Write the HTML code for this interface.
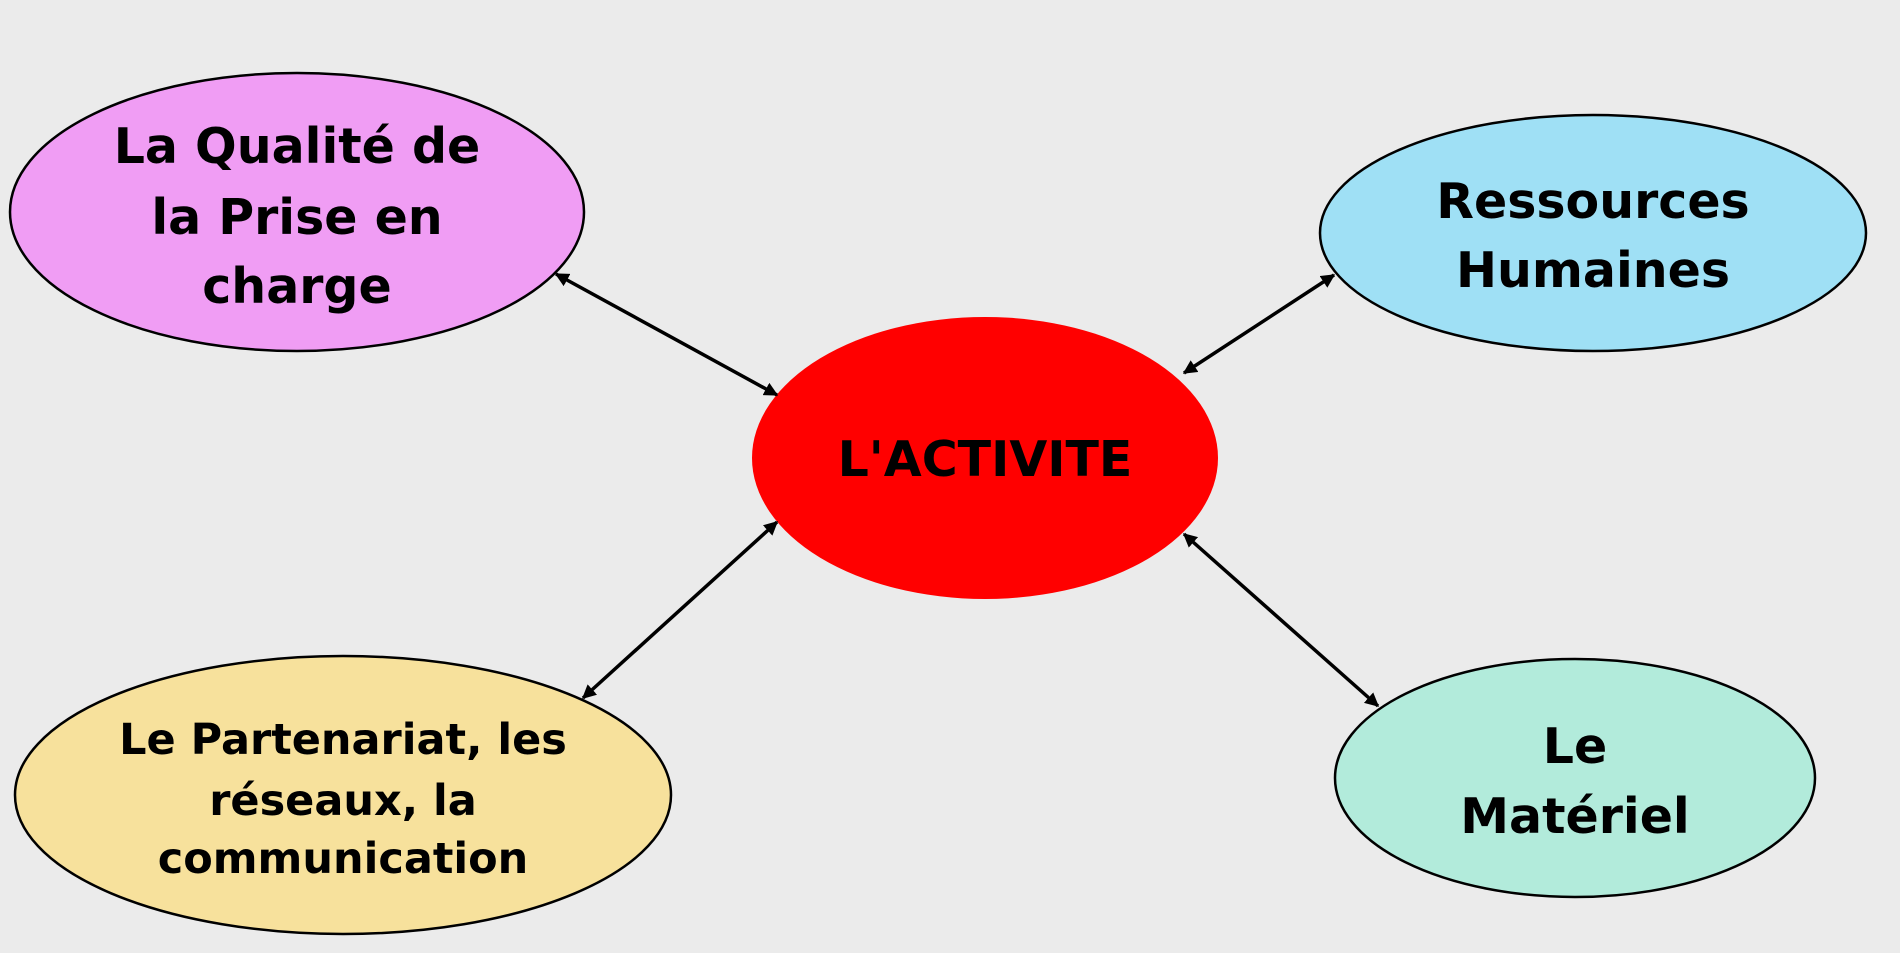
<!DOCTYPE html>
<html><head><meta charset="utf-8"><style>
html,body{margin:0;padding:0;background:#ebebeb;}
svg{display:block;}
text{font-family:"DejaVu Sans","Liberation Sans",sans-serif;font-weight:bold;fill:#000;text-anchor:middle;}
</style></head><body>
<svg width="1900" height="953" viewBox="0 0 1900 953" xmlns="http://www.w3.org/2000/svg">
<defs>
<marker id="a" viewBox="0 0 10 10" refX="9" refY="5" markerWidth="4" markerHeight="4" orient="auto-start-reverse">
<path d="M0,0 L10,5 L0,10 z" fill="#000"/></marker>
</defs>
<rect width="1900" height="953" fill="#ebebeb"/>
<ellipse cx="297" cy="212" rx="287" ry="139" fill="#f09df4" stroke="#000" stroke-width="2.5"/>
<ellipse cx="1593" cy="233" rx="273" ry="118" fill="#9fe0f5" stroke="#000" stroke-width="2.5"/>
<ellipse cx="985" cy="458" rx="233" ry="141" fill="#ff0000"/>
<ellipse cx="343" cy="795" rx="328" ry="139" fill="#f7e19c" stroke="#000" stroke-width="2.5"/>
<ellipse cx="1575" cy="778" rx="240" ry="119" fill="#b2ebdb" stroke="#000" stroke-width="2.5"/>
<g stroke="#000" stroke-width="3.5" marker-start="url(#a)" marker-end="url(#a)">
<line x1="556" y1="274" x2="777" y2="395"/>
<line x1="1184" y1="373" x2="1334" y2="275"/>
<line x1="777" y1="522" x2="583" y2="698"/>
<line x1="1184" y1="534" x2="1378" y2="706"/>
</g>
<g font-size="49">
<text x="297" y="163">La Qualité de</text>
<text x="297" y="234">la Prise en</text>
<text x="297" y="303">charge</text>
<text x="1593" y="218">Ressources</text>
<text x="1593" y="287">Humaines</text>
<text x="985" y="476">L'ACTIVITE</text>
<text x="1575" y="763">Le</text>
<text x="1575" y="833">Matériel</text>
</g>
<g font-size="43">
<text x="343" y="754">Le Partenariat, les</text>
<text x="343" y="815">réseaux, la</text>
<text x="343" y="873">communication</text>
</g>
</svg>
</body></html>
